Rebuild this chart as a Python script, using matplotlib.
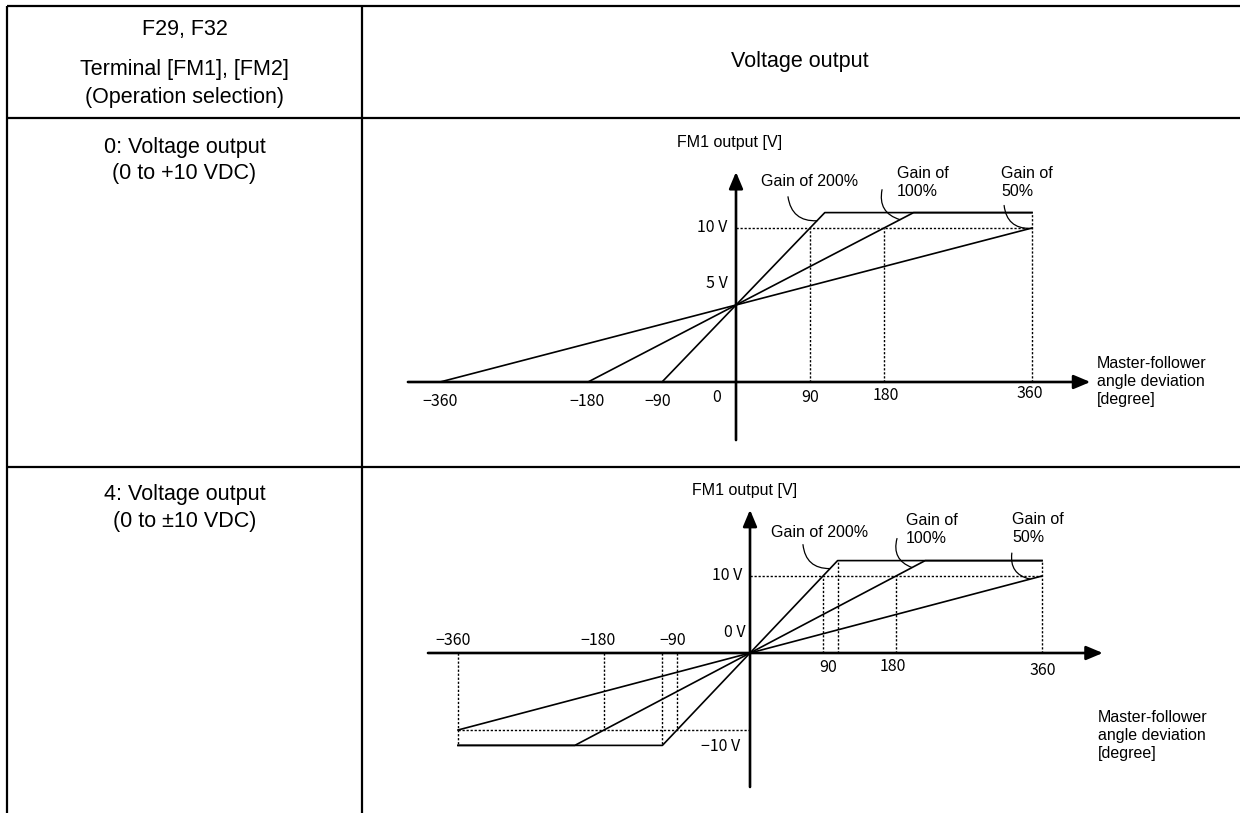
import matplotlib
matplotlib.use("Agg")
import matplotlib.pyplot as plt

# ---------------- data ----------------
header_left = ["F29, F32", "Terminal [FM1], [FM2]", "(Operation selection)"]
header_right = "Voltage output"
row_labels = [["0: Voltage output", "(0 to +10 VDC)"],
              ["4: Voltage output", "(0 to \u00b110 VDC)"]]
gain_labels = ["Gain of 200%", "Gain of\n100%", "Gain of\n50%"]
y_title = "FM1 output [V]"
x_title = "Master-follower\nangle deviation\n[degree]"

# top chart (0 to +10 VDC): breakpoints of each gain line (deg, V)
top_200_x = [-90, 108, 360]
top_200_y = [0, 11, 11]
top_100_x = [-180, 216, 360]
top_100_y = [0, 11, 11]
top_50_x = [-360, 360]
top_50_y = [0, 10]
top_guide_x = [90, 180, 360]
top_guide_y = [10, 10, 11]
top_full = 10
top_xticks = [-360, -180, -90, 0, 90, 180, 360]
top_xticklabels = ["\u2212360", "\u2212180", "\u221290", "0", "90", "180", "360"]
top_yticks = [10, 5]
top_yticklabels = ["10 V", "5 V"]

# bottom chart (0 to +-10 VDC)
bot_200_x = [-360, -108, 108, 360]
bot_200_y = [-12, -12, 12, 12]
bot_100_x = [-360, -216, 216, 360]
bot_100_y = [-12, -12, 12, 12]
bot_50_x = [-360, 360]
bot_50_y = [-10, 10]
bot_guide_x = [-360, -180, -108, -90, 90, 108, 180, 360]
bot_guide_y = [-12, -10, -12, -10, 10, 12, 10, 12]
bot_full = 10
bot_xticks = [-360, -180, -90, 90, 180, 360]
bot_xticklabels = ["\u2212360", "\u2212180", "\u221290", "90", "180", "360"]
bot_yticks = [10, 0, -10]
bot_yticklabels = ["10 V", "0 V", "\u221210 V"]

# ---------------- layout ----------------
W, H = 1240, 813
fig = plt.figure(figsize=(W / 100, H / 100), dpi=100)
bg = fig.add_axes([0, 0, 1, 1])
bg.set_xlim(0, W)
bg.set_ylim(H, 0)
bg.axis("off")

SANS = ["Liberation Sans", "DejaVu Sans"]
TICK = ["Liberation Sans Narrow", "Noto Sans CJK JP", "DejaVu Sans"]
K = "black"

# table grid
LX, DX, TY, HY, RY = 7, 362, 6, 118, 467
tlw = 1.6
bg.plot([LX, W], [TY, TY], color=K, lw=tlw, solid_capstyle="butt")
bg.plot([LX, W], [HY, HY], color=K, lw=tlw, solid_capstyle="butt")
bg.plot([LX, W], [RY, RY], color=K, lw=tlw, solid_capstyle="butt")
bg.plot([LX, LX], [TY, H], color=K, lw=tlw, solid_capstyle="butt")
bg.plot([DX, DX], [TY, H], color=K, lw=tlw, solid_capstyle="butt")

cx = (LX + DX) / 2
hfs = 15.5
for txt, y in zip(header_left, [30, 70, 98]):
    bg.text(cx, y, txt, ha="center", va="center", fontsize=hfs, family=SANS)
bg.text(800, 62, header_right, ha="center", va="center", fontsize=hfs, family=SANS)
for lines, ys in zip(row_labels, [[147, 173], [494, 521]]):
    for txt, y in zip(lines, ys):
        bg.text(cx, y, txt, ha="center", va="center", fontsize=hfs, family=SANS)


def make_chart(origin, scale, box):
    ox, oy = origin
    sx, sy = scale
    l, t, r, b = box
    ax = fig.add_axes([l / W, 1 - b / H, (r - l) / W, (b - t) / H])
    ax.set_xlim((l - ox) / sx, (r - ox) / sx)
    ax.set_ylim((oy - b) / sy, (oy - t) / sy)
    ax.axis("off")
    return ax


def arrow(ax, start, end):
    ax.annotate("", xy=end, xytext=start, annotation_clip=False,
                arrowprops=dict(arrowstyle="-|>,head_length=1.0,head_width=0.42",
                                lw=1.9, color=K, shrinkA=0, shrinkB=0,
                                mutation_scale=10))


def leader(ax, end, off):
    ax.annotate("", xy=end, xytext=off, textcoords="offset pixels",
                annotation_clip=False,
                arrowprops=dict(arrowstyle="-", lw=0.9, color=K, shrinkA=0,
                                shrinkB=0, connectionstyle="arc3,rad=0.45"))


def tick(ax, txt, xy, off, ha="center"):
    ax.annotate(txt, xy=xy, xytext=off, textcoords="offset pixels",
                ha=ha, va="center", fontsize=11.5, family=TICK,
                annotation_clip=False)


LW = 1.2
DOT = dict(color=K, lw=1.0, linestyle=(0, (1.6, 1.3)))
lfs = 11.5
LS = 1.25

# ---------- top chart ----------
ax1 = make_chart((736, 382), (74 / 90, 15.4), (380, 120, 1240, 465))
arrow(ax1, (-399, 0), (431, 0))
arrow(ax1, (0, -3.77), (0, 13.64))
ax1.plot(top_200_x, top_200_y, color=K, lw=LW)
ax1.plot(top_100_x, top_100_y, color=K, lw=LW)
ax1.plot(top_50_x, top_50_y, color=K, lw=LW)
ax1.plot([0, max(top_guide_x)], [top_full, top_full], **DOT)
for gx, gy in zip(top_guide_x, top_guide_y):
    ax1.plot([gx, gx], [0, gy], **DOT)
tick_offs = [(0, -20), (-1, -20), (-4, -20), (-19, -16), (0, -15), (2, -14), (-2, -11)]
for v, lab, o in zip(top_xticks, top_xticklabels, tick_offs):
    tick(ax1, lab, (v, 0), o)
tick(ax1, top_yticklabels[0], (0, top_yticks[0]), (-9, 0), ha="right")
tick(ax1, top_yticklabels[1], (0, top_yticks[1]), (-8, 22), ha="right")
leader(ax1, (98.5, 10.47), (-29, 24))
leader(ax1, (199.5, 10.54), (-18, 30))
leader(ax1, (357.7, 9.97), (-26, 23))
bg.text(730, 142, y_title, ha="center", va="center", fontsize=lfs, family=SANS)
bg.text(810, 182, gain_labels[0], ha="center", va="center", fontsize=lfs, family=SANS)
bg.text(897, 182, gain_labels[1], ha="left", va="center", fontsize=lfs, family=SANS, linespacing=LS)
bg.text(1001, 182, gain_labels[2], ha="left", va="center", fontsize=lfs, family=SANS, linespacing=LS)
bg.text(1097, 381, x_title, ha="left", va="center", fontsize=lfs, family=SANS, linespacing=LS)

# ---------- bottom chart ----------
ax2 = make_chart((750, 653), (292 / 360, 7.7), (380, 469, 1240, 813))
arrow(ax2, (-397, 0), (435, 0))
arrow(ax2, (0, -17.4), (0, 18.6))
ax2.plot(bot_200_x, bot_200_y, color=K, lw=LW)
ax2.plot(bot_100_x, bot_100_y, color=K, lw=LW)
ax2.plot(bot_50_x, bot_50_y, color=K, lw=LW)
ax2.plot([0, 360], [bot_full, bot_full], **DOT)
ax2.plot([-360, 0], [-bot_full, -bot_full], **DOT)
for gx, gy in zip(bot_guide_x, bot_guide_y):
    ax2.plot([gx, gx], [0, gy], **DOT)
tick_offs2 = [(-5, 13), (-6, 13), (-4, 13), (5, -14), (-3, -13), (1, -17)]
for v, lab, o in zip(bot_xticks, bot_xticklabels, tick_offs2):
    tick(ax2, lab, (v, 0), o)
tick(ax2, bot_yticklabels[0], (0, bot_yticks[0]), (-8, 0), ha="right")
tick(ax2, bot_yticklabels[1], (0, bot_yticks[1]), (-5, 21), ha="right")
tick(ax2, bot_yticklabels[2], (0, bot_yticks[2]), (-10, -16), ha="right")
leader(ax2, (98.6, 10.96), (-27, 24))
leader(ax2, (199.7, 11.1), (-15, 29))
leader(ax2, (345, 9.6), (-18, 26))
bg.text(745, 490, y_title, ha="center", va="center", fontsize=lfs, family=SANS)
bg.text(820, 532, gain_labels[0], ha="center", va="center", fontsize=lfs, family=SANS)
bg.text(906, 529, gain_labels[1], ha="left", va="center", fontsize=lfs, family=SANS, linespacing=LS)
bg.text(1012, 528, gain_labels[2], ha="left", va="center", fontsize=lfs, family=SANS, linespacing=LS)
bg.text(1098, 735, x_title, ha="left", va="center", fontsize=lfs, family=SANS, linespacing=LS)

fig.savefig("out.png", dpi=100, facecolor="white")
